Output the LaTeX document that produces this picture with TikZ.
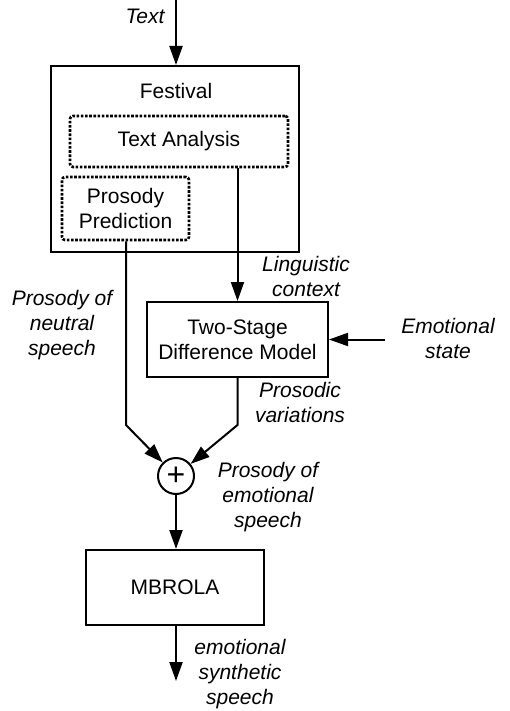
\documentclass[tikz,border=0pt]{standalone}
\usepackage{fontspec}
\setmainfont{Liberation Sans}
\usetikzlibrary{arrows.meta}

\begin{document}
\begin{tikzpicture}[x=1pt,y=-1pt,
    every node/.style={font=\fontsize{21}{25}\selectfont, align=center, inner sep=0pt},
    blk/.style={draw, line width=2pt, minimum width=#1},
    dotbox/.style={draw, line width=2.6pt, dash pattern=on 2.6pt off 1.6pt, rounded corners=3pt},
    lbl/.style={font=\fontsize{21}{25}\selectfont\itshape},
    arr/.style={line width=2pt, -{Triangle[length=19pt,width=13pt]}},
    ln/.style={line width=2pt}]
\useasboundingbox (0,0) rectangle (510,711);
% blocks
\node[blk=248, minimum height=186] (festival) at (175,159) {};
\node (festlabel) at (176,91) {Festival};
\node[dotbox, minimum width=218, minimum height=51] (ta) at (179,141.5) {Text Analysis};
\node[dotbox, minimum width=127, minimum height=63] (pp) at (125.5,208.5) {Prosody\\Prediction};
\node[blk=181, minimum height=75] (tsdm) at (237.5,339.5) {Two-Stage\\Difference Model};
\node[draw, circle, line width=2pt, minimum size=36, font=\fontsize{32}{32}\selectfont] (sum) at (176,476) {+};
\node[blk=178, minimum height=75] (mbrola) at (175,587.5) {MBROLA};
% labels
\node[lbl] (txt) at (145,16) {Text};
\node[lbl] (ling) at (306,276) {Linguistic\\context};
\node[lbl] (emo) at (448,338) {Emotional\\state};
\node[lbl] (neutral) at (62,325) {Prosody of\\neutral\\speech};
\node[lbl] (pvar) at (300,402) {Prosodic\\variations};
\node[lbl] (pemo) at (268,497) {Prosody of\\emotional\\speech};
\node[lbl] (out) at (240,674) {emotional\\synthetic\\speech};
% connectors
\coordinate (in) at (176,0);
\coordinate (emoin) at (385,339.5);
\coordinate (bendL) at (126,425);
\coordinate (bendR) at (237.5,425);
\coordinate (outend) at (176,681);
\draw[arr] (in) -- (festival.north -| in);
\draw[arr] (tsdm.north |- ta.south) -- (tsdm.north);
\draw[arr] (emoin) -- (tsdm.east);
\draw[arr] (pp.south -| bendL) -- (bendL) -- (sum);
\draw[arr] (tsdm.south) -- (bendR) -- (sum);
\draw[arr] (sum) -- (mbrola.north -| sum);
\draw[arr] (mbrola.south -| outend) -- (outend);
\end{tikzpicture}
\end{document}
